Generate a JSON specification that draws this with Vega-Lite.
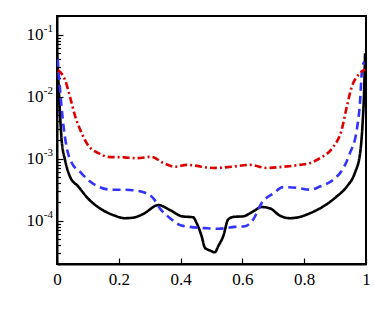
{
  "$schema": "https://vega.github.io/schema/vega-lite/v6.json",
  "autosize": {"type": "none"},
  "padding": {"left": 57, "top": 16, "right": 8, "bottom": 48},
  "width": 309,
  "height": 248,
  "config": {
    "view": {"stroke": "black", "strokeWidth": 2},
    "axis": {"labelFont": "Liberation Serif", "labelFontSize": 17, "labelColor": "black", "tickColor": "black", "domainColor": "black", "domainWidth": 2, "tickWidth": 1.2, "grid": false, "title": null}
  },
  "datasets": {
    "curves": [
      {"s": "A", "x": 0.0, "y": 0.0501},
      {"s": "A", "x": 0.005, "y": 0.01585},
      {"s": "A", "x": 0.01, "y": 0.00501},
      {"s": "A", "x": 0.015, "y": 0.001995},
      {"s": "A", "x": 0.026, "y": 0.000955},
      {"s": "A", "x": 0.042, "y": 0.000513},
      {"s": "A", "x": 0.069, "y": 0.000355},
      {"s": "A", "x": 0.10, "y": 0.000229},
      {"s": "A", "x": 0.145, "y": 0.000151},
      {"s": "A", "x": 0.188, "y": 0.000120},
      {"s": "A", "x": 0.218, "y": 0.0001096},
      {"s": "A", "x": 0.247, "y": 0.000112},
      {"s": "A", "x": 0.28, "y": 0.000129},
      {"s": "A", "x": 0.328, "y": 0.000178},
      {"s": "A", "x": 0.366, "y": 0.000148},
      {"s": "A", "x": 0.403, "y": 0.000118},
      {"s": "A", "x": 0.441, "y": 0.000113},
      {"s": "A", "x": 0.452, "y": 0.0000912},
      {"s": "A", "x": 0.468, "y": 0.0000562},
      {"s": "A", "x": 0.479, "y": 0.0000363},
      {"s": "A", "x": 0.495, "y": 0.0000331},
      {"s": "A", "x": 0.511, "y": 0.0000309},
      {"s": "A", "x": 0.522, "y": 0.0000389},
      {"s": "A", "x": 0.538, "y": 0.0000562},
      {"s": "A", "x": 0.554, "y": 0.0001047},
      {"s": "A", "x": 0.571, "y": 0.000115},
      {"s": "A", "x": 0.603, "y": 0.0001175},
      {"s": "A", "x": 0.635, "y": 0.000141},
      {"s": "A", "x": 0.662, "y": 0.000166},
      {"s": "A", "x": 0.689, "y": 0.000158},
      {"s": "A", "x": 0.722, "y": 0.000120},
      {"s": "A", "x": 0.754, "y": 0.0001096},
      {"s": "A", "x": 0.786, "y": 0.000115},
      {"s": "A", "x": 0.819, "y": 0.000132},
      {"s": "A", "x": 0.862, "y": 0.000170},
      {"s": "A", "x": 0.905, "y": 0.000245},
      {"s": "A", "x": 0.938, "y": 0.000355},
      {"s": "A", "x": 0.964, "y": 0.000589},
      {"s": "A", "x": 0.981, "y": 0.00123},
      {"s": "A", "x": 0.989, "y": 0.00372},
      {"s": "A", "x": 0.994, "y": 0.0126},
      {"s": "A", "x": 0.997, "y": 0.0501},
      {"s": "B", "x": 0.002, "y": 0.0407},
      {"s": "B", "x": 0.01, "y": 0.0126},
      {"s": "B", "x": 0.02, "y": 0.00372},
      {"s": "B", "x": 0.031, "y": 0.00155},
      {"s": "B", "x": 0.048, "y": 0.000851},
      {"s": "B", "x": 0.074, "y": 0.000617},
      {"s": "B", "x": 0.10, "y": 0.000457},
      {"s": "B", "x": 0.134, "y": 0.000355},
      {"s": "B", "x": 0.177, "y": 0.000316},
      {"s": "B", "x": 0.218, "y": 0.000316},
      {"s": "B", "x": 0.247, "y": 0.000309},
      {"s": "B", "x": 0.285, "y": 0.000282},
      {"s": "B", "x": 0.312, "y": 0.000229},
      {"s": "B", "x": 0.333, "y": 0.000158},
      {"s": "B", "x": 0.366, "y": 0.0001096},
      {"s": "B", "x": 0.403, "y": 0.0000832},
      {"s": "B", "x": 0.43, "y": 0.0000794},
      {"s": "B", "x": 0.479, "y": 0.0000759},
      {"s": "B", "x": 0.522, "y": 0.0000741},
      {"s": "B", "x": 0.576, "y": 0.0000794},
      {"s": "B", "x": 0.608, "y": 0.0000813},
      {"s": "B", "x": 0.635, "y": 0.0001047},
      {"s": "B", "x": 0.662, "y": 0.000191},
      {"s": "B", "x": 0.70, "y": 0.000275},
      {"s": "B", "x": 0.732, "y": 0.000347},
      {"s": "B", "x": 0.776, "y": 0.000339},
      {"s": "B", "x": 0.819, "y": 0.000316},
      {"s": "B", "x": 0.851, "y": 0.000355},
      {"s": "B", "x": 0.894, "y": 0.000457},
      {"s": "B", "x": 0.927, "y": 0.000708},
      {"s": "B", "x": 0.948, "y": 0.00123},
      {"s": "B", "x": 0.97, "y": 0.00288},
      {"s": "B", "x": 0.981, "y": 0.00871},
      {"s": "B", "x": 0.986, "y": 0.0234},
      {"s": "B", "x": 0.991, "y": 0.0339},
      {"s": "B", "x": 0.995, "y": 0.0363},
      {"s": "C", "x": 0.003, "y": 0.0269},
      {"s": "C", "x": 0.026, "y": 0.0186},
      {"s": "C", "x": 0.042, "y": 0.01},
      {"s": "C", "x": 0.058, "y": 0.00501},
      {"s": "C", "x": 0.08, "y": 0.00257},
      {"s": "C", "x": 0.10, "y": 0.00166},
      {"s": "C", "x": 0.134, "y": 0.00123},
      {"s": "C", "x": 0.166, "y": 0.00107},
      {"s": "C", "x": 0.218, "y": 0.00105},
      {"s": "C", "x": 0.258, "y": 0.00102},
      {"s": "C", "x": 0.306, "y": 0.00107},
      {"s": "C", "x": 0.344, "y": 0.000851},
      {"s": "C", "x": 0.382, "y": 0.000741},
      {"s": "C", "x": 0.42, "y": 0.000794},
      {"s": "C", "x": 0.506, "y": 0.000708},
      {"s": "C", "x": 0.565, "y": 0.000741},
      {"s": "C", "x": 0.625, "y": 0.000794},
      {"s": "C", "x": 0.679, "y": 0.000708},
      {"s": "C", "x": 0.732, "y": 0.000741},
      {"s": "C", "x": 0.786, "y": 0.000794},
      {"s": "C", "x": 0.819, "y": 0.000851},
      {"s": "C", "x": 0.851, "y": 0.00102},
      {"s": "C", "x": 0.894, "y": 0.00155},
      {"s": "C", "x": 0.921, "y": 0.00288},
      {"s": "C", "x": 0.938, "y": 0.00692},
      {"s": "C", "x": 0.954, "y": 0.01445},
      {"s": "C", "x": 0.975, "y": 0.0224},
      {"s": "C", "x": 0.991, "y": 0.0263},
      {"s": "C", "x": 0.997, "y": 0.0275}
    ],
    "exps": [
      {"e": "-1", "v": 0.1, "x": 0},
      {"e": "-2", "v": 0.01, "x": 0},
      {"e": "-3", "v": 0.001, "x": 0},
      {"e": "-4", "v": 0.0001, "x": 0}
    ]
  },
  "layer": [
    {
      "data": {"name": "curves"},
      "mark": {"type": "line", "interpolate": "monotone", "strokeWidth": 2.6, "clip": true},
      "encoding": {
        "x": {"field": "x", "type": "quantitative",
          "scale": {"domain": [0, 1], "nice": false, "zero": false},
          "axis": {
            "values": [0, 0.05, 0.1, 0.15, 0.2, 0.25, 0.3, 0.35, 0.4, 0.45, 0.5, 0.55, 0.6, 0.65, 0.7, 0.75, 0.8, 0.85, 0.9, 0.95, 1],
            "labelExpr": "indexof([0,0.2,0.4,0.6,0.8,1], datum.value) >= 0 ? format(datum.value, '~g') : ''",
            "labelFont": "Liberation Serif",
            "tickSize": {"condition": {"test": "indexof([0,0.2,0.4,0.6,0.8,1], datum.value) >= 0", "value": -6}, "value": -3.5},
            "labelPadding": 13,
            "labelFlush": false,
            "labelOverlap": false
          }},
        "y": {"field": "y", "type": "quantitative",
          "scale": {"type": "log", "domain": [0.00002, 0.2], "nice": false},
          "axis": {
            "values": [0.00002, 0.00003, 0.00004, 0.00005, 0.00006, 0.00007, 0.00008, 0.00009, 0.0001, 0.0002, 0.0003, 0.0004, 0.0005, 0.0006, 0.0007, 0.0008, 0.0009, 0.001, 0.002, 0.003, 0.004, 0.005, 0.006, 0.007, 0.008, 0.009, 0.01, 0.02, 0.03, 0.04, 0.05, 0.06, 0.07, 0.08, 0.09, 0.1, 0.2],
            "labelExpr": "indexof([0.1,0.01,0.001,0.0001], datum.value) >= 0 ? '10' : ''",
            "labelFont": "Liberation Serif",
            "tickSize": {"condition": {"test": "indexof([0.1,0.01,0.001,0.0001], datum.value) >= 0", "value": -6}, "value": -3.5},
            "labelPadding": 20,
            "labelFlush": false,
            "labelOverlap": false
          }},
        "color": {"field": "s", "type": "nominal", "legend": null,
          "scale": {"domain": ["A", "B", "C"], "range": ["#000000", "#3333ff", "#dd0000"]}},
        "strokeDash": {"field": "s", "type": "nominal", "legend": null,
          "scale": {"domain": ["A", "B", "C"], "range": [[1, 0], [8, 5], [7, 3, 2, 3]]}}
      }
    },
    {
      "data": {"name": "exps"},
      "mark": {"type": "text", "font": "Liberation Serif", "fontSize": 11, "align": "right", "baseline": "alphabetic", "dx": -4, "dy": -3, "color": "black", "clip": false},
      "encoding": {
        "x": {"field": "x", "type": "quantitative"},
        "y": {"field": "v", "type": "quantitative"},
        "text": {"field": "e"}
      }
    }
  ]
}
